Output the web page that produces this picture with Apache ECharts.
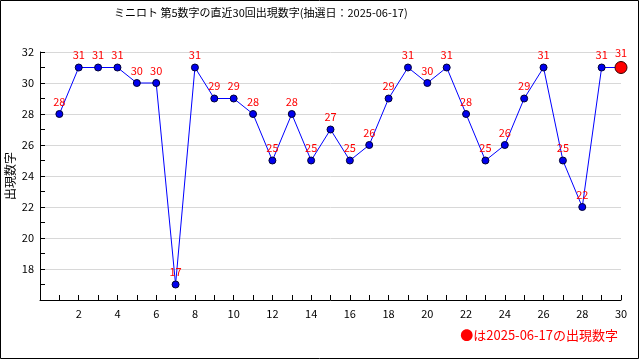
<!DOCTYPE html>
<html><head><meta charset="utf-8">
<script src="https://cdn.jsdelivr.net/npm/echarts@6/dist/echarts.min.js"></script>
<style>html,body{margin:0;padding:0;background:#fff}#c{width:640px;height:360px}</style>
</head><body><div id="c"></div>
<script>
const titleText = 'ミニロト 第5数字の直近30回出現数字(抽選日：2025-06-17)';
const yName = '出現数字';
const legendText = '●は2025-06-17の出現数字';
const draws = [1,2,3,4,5,6,7,8,9,10,11,12,13,14,15,16,17,18,19,20,21,22,23,24,25,26,27,28,29,30];
const values = [28,31,31,31,30,30,17,31,29,29,28,25,28,25,27,25,26,29,31,30,31,28,25,26,29,31,25,22,31,31];

const FONT = '"Noto Sans CJK JP", "DejaVu Sans", sans-serif';
const data = draws.map((d, i) => {
  const last = i === draws.length - 1;
  return {
    value: [d, values[i]],
    symbolSize: last ? 12 : 7,
    itemStyle: last ? {color: '#ff0000', borderColor: '#330000', borderWidth: 1}
                    : {color: '#0000ee', borderColor: '#000033', borderWidth: 1}
  };
});

const chart = echarts.init(document.getElementById('c'), null, {renderer: 'canvas'});
chart.setOption({
  animation: false,
  backgroundColor: '#fff',
  title: {text: titleText, left: 109, top: 2,
    textStyle: {fontFamily: FONT, fontSize: 11, fontWeight: 'normal', color: '#000'}},
  grid: {left: 40, right: 19, top: 52, bottom: 60, containLabel: false, outerBoundsMode: 'none'},
  xAxis: {type: 'value', min: 0, max: 30, interval: 2,
    axisLine: {lineStyle: {color: '#000'}},
    axisTick: {inside: true, length: 5, lineStyle: {color: '#000'}},
    minorTick: {show: true, splitNumber: 2, length: 5, lineStyle: {color: '#000'}},
    splitLine: {show: false},
    axisLabel: {color: '#000', fontFamily: FONT, fontSize: 11, margin: 8,
      formatter: v => v === 0 ? '' : String(v)}},
  yAxis: {type: 'value', min: 16, max: 32, interval: 2,
    axisLine: {show: true, lineStyle: {color: '#000'}},
    axisTick: {show: true, inside: true, length: 5, lineStyle: {color: '#000'}},
    minorTick: {show: true, splitNumber: 2, length: 5, lineStyle: {color: '#000'}},
    splitLine: {show: true, lineStyle: {color: '#d8d8d8'}},
    axisLabel: {color: '#000', fontFamily: FONT, fontSize: 11, margin: 6,
      formatter: v => v === 16 ? '' : String(v)}},
  series: [{
    type: 'line', data: data, symbol: 'circle',
    lineStyle: {color: '#0000ff', width: 1},
    label: {show: true, position: 'top', distance: 3, color: '#ff0000',
      fontFamily: FONT, fontSize: 11, formatter: p => p.value[1]}
  }],
  graphic: [
    {type: 'rect', shape: {x: 0.5, y: 0.5, width: 638, height: 358},
      style: {fill: 'none', stroke: '#000', lineWidth: 1}, silent: true},
    {type: 'text', x: 10, y: 176, rotation: Math.PI / 2,
      style: {text: yName, fill: '#000', font: '12px ' + FONT, align: 'center', verticalAlign: 'middle'}},
    {type: 'text', right: 22, top: 329,
      style: {text: legendText, fill: '#ff0000', font: '13px ' + FONT}}
  ]
});
</script></body></html>
